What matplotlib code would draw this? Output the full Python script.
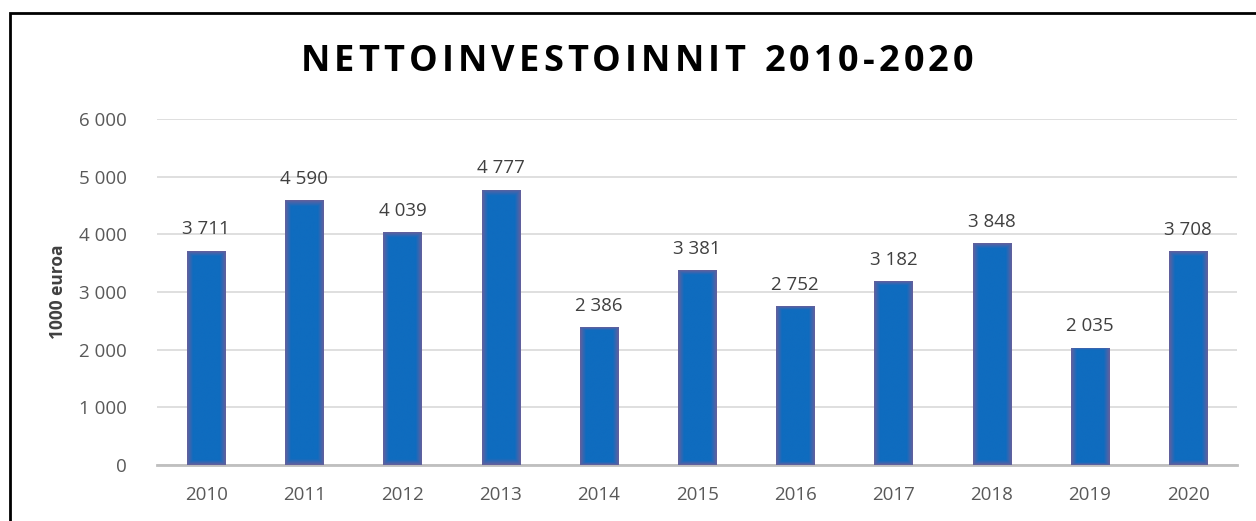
import matplotlib
matplotlib.use("Agg")
import matplotlib.pyplot as plt
import matplotlib.patches as mpatches
from matplotlib.colors import LinearSegmentedColormap
import numpy as np

years = ["2010", "2011", "2012", "2013", "2014", "2015", "2016", "2017", "2018", "2019", "2020"]
values = [3711, 4590, 4039, 4777, 2386, 3381, 2752, 3182, 3848, 2035, 3708]
yticks = [0, 1000, 2000, 3000, 4000, 5000, 6000]
title = "NETTOINVESTOINNIT 2010-2020"
ylabel = "1000 euroa"


def fmt(v):
    return "{:,}".format(v).replace(",", " ")


plt.rcParams["font.family"] = ["Open Sans", "DejaVu Sans"]

fig = plt.figure(figsize=(12.56, 5.21), dpi=100)
ax = fig.add_axes([0.125, 0.1075, 0.86, 0.6641])

x = np.arange(len(years))
bars = ax.bar(x, values, width=0.39, color="#1068bb", edgecolor="none", zorder=2)

# shaded fill for each bar, edges fading to a purplish grey
shade = LinearSegmentedColormap.from_list("shade", ["#63609c", "#3866b0", "#0f6cbf", "#0f6cbf"])
for b in bars:
    nx, ny = 60, 300
    gx = np.minimum(np.linspace(0, 1, nx), np.linspace(1, 0, nx)) * 2
    gx = np.clip(gx * 2.2, 0, 1)
    gy = np.minimum(np.linspace(0, 1, ny), np.linspace(1, 0, ny)) * 2
    g = np.minimum(gx[None, :], np.clip(gy[:, None] * 15, 0, 1))
    x0, y0 = b.get_x(), b.get_y()
    im = ax.imshow(g, cmap=shade, vmin=0, vmax=1, aspect="auto", origin="lower",
                   interpolation="bilinear",
                   extent=(x0, x0 + b.get_width(), y0, y0 + b.get_height()), zorder=3)
    im.set_clip_path(b)

for xi, v in zip(x, values):
    ax.annotate(fmt(v), (xi, v), xytext=(0, 9), textcoords="offset points",
                ha="center", va="bottom", fontsize=13.5, color="#404040", zorder=4)

ax.set_xlim(-0.5, len(years) - 0.5)
ax.set_ylim(0, 6000)
ax.set_yticks(yticks)
ax.set_yticklabels([fmt(t) for t in yticks])
ax.set_xticks(x)
ax.set_xticklabels(years)
ax.tick_params(axis="both", length=0, labelsize=13.5, colors="#595959")
ax.tick_params(axis="y", pad=22)
ax.tick_params(axis="x", pad=15)
ax.grid(axis="y", color="#d9d9d9", linewidth=1.2, zorder=0)
ax.set_axisbelow(True)
for s in ["top", "right", "left"]:
    ax.spines[s].set_visible(False)
ax.spines["bottom"].set_color("#bfbfbf")
ax.spines["bottom"].set_linewidth(2)

ax.set_ylabel(ylabel, fontsize=12.5, fontweight="bold", color="#404040", labelpad=8)

# title with wide letter spacing, laid out character by character
renderer = fig.canvas.get_renderer()
tsize = 26
spacing = 4.1
widths = []
for ch in title:
    t = fig.text(0, 0, ch if ch != " " else "n", fontsize=tsize, fontweight="bold")
    w = t.get_window_extent(renderer).width
    if ch == " ":
        w *= 0.45
    widths.append(w)
    t.remove()
total = sum(widths) + spacing * (len(title) - 1)
cx = 637
pos = cx - total / 2
for ch, w in zip(title, widths):
    if ch != " ":
        fig.text(pos / 1256, 1 - 62 / 521, ch, fontsize=tsize, fontweight="bold",
                 color="black", ha="left", va="center")
    pos += w + spacing

# chart border
border = mpatches.Rectangle((10 / 1256, -0.2), 1.2, 1.2 - 13 / 521,
                            transform=fig.transFigure, fill=False,
                            edgecolor="black", linewidth=2, clip_on=False)
fig.patches.append(border)

fig.savefig("out.png", dpi=100)
